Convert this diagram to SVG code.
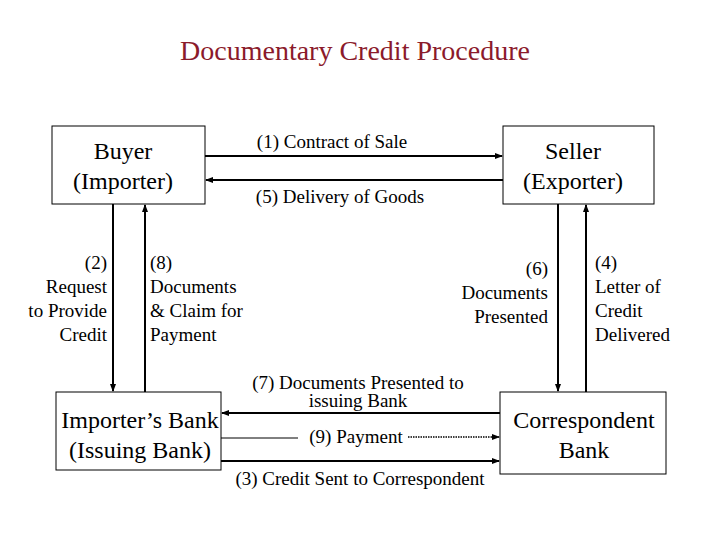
<svg xmlns="http://www.w3.org/2000/svg" width="720" height="540" viewBox="0 0 720 540" font-family="'Liberation Serif','Times New Roman','DejaVu Serif',serif">
<style>
.b{fill:#fff;stroke:#000;stroke-width:1}
.l{stroke:#000;stroke-width:2;fill:none}
.s{font-size:19px}
.m{font-size:24px}
</style>
<defs><marker id="a" markerWidth="8" markerHeight="8" refX="7" refY="4" orient="auto" markerUnits="userSpaceOnUse"><path d="M0,1L8,4L0,7z" fill="#000"/></marker></defs>
<rect width="720" height="540" fill="#fff"/>
<text x="355" y="60" text-anchor="middle" font-size="28" fill="#8b1a2b">Documentary Credit Procedure</text>
<g id="buyer"><rect class="b" x="52" y="126" width="153" height="78"/><text class="m" x="123" y="159" text-anchor="middle">Buyer</text><text class="m" x="123" y="189" text-anchor="middle">(Importer)</text></g>
<g id="seller"><rect class="b" x="503" y="126" width="151" height="78"/><text class="m" x="573" y="159" text-anchor="middle">Seller</text><text class="m" x="573" y="189" text-anchor="middle">(Exporter)</text></g>
<g id="issuing"><rect class="b" x="56" y="392" width="165" height="78"/><text class="m" x="140" y="428" text-anchor="middle">Importer’s Bank</text><text class="m" x="140" y="458" text-anchor="middle">(Issuing Bank)</text></g>
<g id="correspondent"><rect class="b" x="500" y="392" width="166" height="82"/><text class="m" x="584" y="428" text-anchor="middle">Correspondent</text><text class="m" x="584" y="458" text-anchor="middle">Bank</text></g>
<g id="connectors">
<line class="l" x1="205" y1="156" x2="502" y2="156" marker-end="url(#a)"/>
<line class="l" x1="503" y1="180" x2="206" y2="180" marker-end="url(#a)"/>
<line class="l" x1="113" y1="204" x2="113" y2="391" marker-end="url(#a)"/>
<line class="l" x1="145" y1="392" x2="145" y2="205" marker-end="url(#a)"/>
<line class="l" x1="558" y1="204" x2="558" y2="391" marker-end="url(#a)"/>
<line class="l" x1="586" y1="392" x2="586" y2="205" marker-end="url(#a)"/>
<line class="l" x1="500" y1="413" x2="222" y2="413" marker-end="url(#a)"/>
<line stroke="#000" stroke-width="1" x1="221" y1="438" x2="298" y2="438"/>
<line stroke="#000" stroke-width="1.5" stroke-dasharray="1.5,1" x1="408" y1="437" x2="499" y2="437" marker-end="url(#a)"/>
<line class="l" x1="221" y1="461" x2="499" y2="461" marker-end="url(#a)"/>
</g>
<g class="s">
<text x="332" y="148" text-anchor="middle">(1) Contract of Sale</text>
<text x="340" y="203" text-anchor="middle">(5) Delivery of Goods</text>
<text x="107" y="269" text-anchor="end">(2)</text>
<text x="107" y="293" text-anchor="end">Request</text>
<text x="107" y="317" text-anchor="end">to Provide</text>
<text x="107" y="341" text-anchor="end">Credit</text>
<text x="150" y="269">(8)</text>
<text x="150" y="293">Documents</text>
<text x="150" y="317">&amp; Claim for</text>
<text x="150" y="341">Payment</text>
<text x="548" y="275" text-anchor="end">(6)</text>
<text x="548" y="299" text-anchor="end">Documents</text>
<text x="548" y="323" text-anchor="end">Presented</text>
<text x="595" y="269">(4)</text>
<text x="595" y="293">Letter of</text>
<text x="595" y="317">Credit</text>
<text x="595" y="341">Delivered</text>
<text x="358" y="389" text-anchor="middle">(7) Documents Presented to</text>
<text x="358" y="407" text-anchor="middle">issuing Bank</text>
<text x="356" y="443" text-anchor="middle">(9) Payment</text>
<text x="360" y="485" text-anchor="middle">(3) Credit Sent to Correspondent</text>
</g>
</svg>
